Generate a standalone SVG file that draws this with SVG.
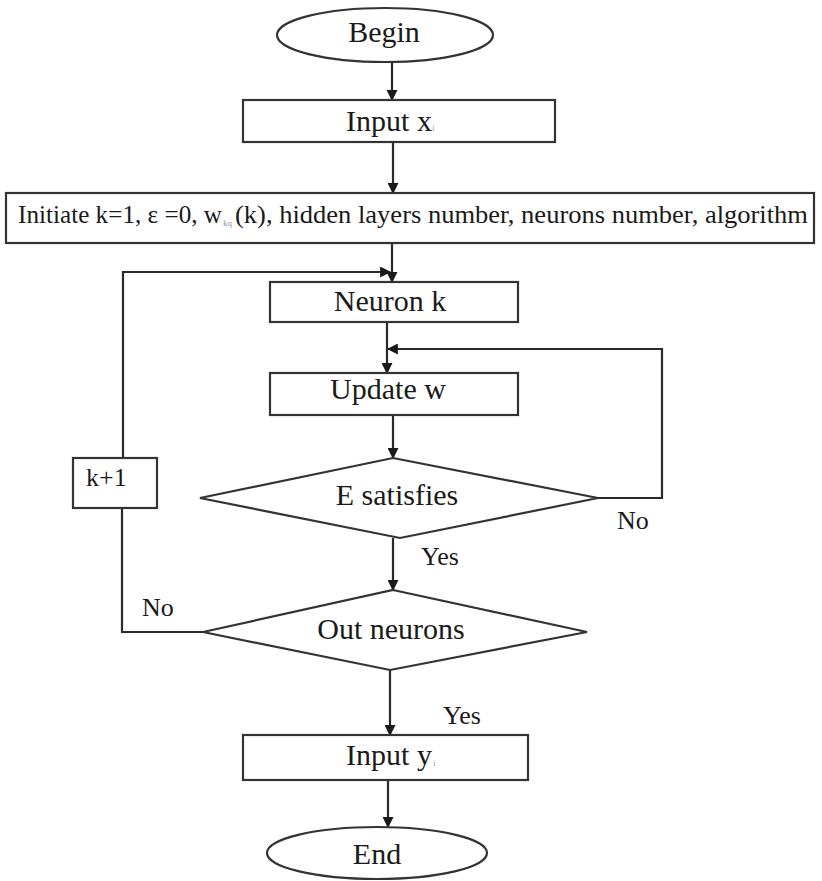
<svg xmlns="http://www.w3.org/2000/svg" width="822" height="881" viewBox="0 0 822 881">
<defs>
<style>
.box{fill:#fff;stroke:#333;stroke-width:2.2}
.ln{fill:none;stroke:#2a2a2a;stroke-width:2.2}
.t{font-family:"Liberation Serif","Times New Roman",serif;font-size:30px;fill:#1a1a1a;text-anchor:middle}
.it{font-family:"Liberation Serif","Times New Roman",serif;font-size:25px;fill:#1a1a1a}
.lb{font-family:"Liberation Serif","Times New Roman",serif;font-size:26px;fill:#1a1a1a}
.sub{font-family:"Liberation Serif","Times New Roman",serif;font-size:9px;fill:#999}
</style>
<marker id="ah" viewBox="0 0 10 10" refX="9" refY="5" markerWidth="5" markerHeight="5" orient="auto-start-reverse" markerUnits="strokeWidth">
<path d="M0,0 L10,5 L0,10 z" fill="#1a1a1a"/>
</marker>
</defs>
<rect width="822" height="881" fill="#fff"/>
<g id="connectors">
<line class="ln" x1="392" y1="62" x2="392" y2="100" marker-end="url(#ah)"/>
<line class="ln" x1="393" y1="142" x2="393" y2="193" marker-end="url(#ah)"/>
<line class="ln" x1="392" y1="243" x2="392" y2="282" marker-end="url(#ah)"/>
<polyline class="ln" points="203,632 122,632 122,508"/>
<polyline class="ln" points="123,458 123,272 390,272" marker-end="url(#ah)"/>
<line class="ln" x1="387" y1="322" x2="387" y2="373" marker-end="url(#ah)"/>
<polyline class="ln" points="598,498 662,498 662,349 388,349" marker-end="url(#ah)"/>
<line class="ln" x1="393" y1="415" x2="393" y2="458" marker-end="url(#ah)"/>
<line class="ln" x1="393" y1="538" x2="393" y2="590" marker-end="url(#ah)"/>
<line class="ln" x1="390" y1="670" x2="390" y2="735" marker-end="url(#ah)"/>
<line class="ln" x1="388" y1="780" x2="388" y2="827" marker-end="url(#ah)"/>
<text class="lb" x="617" y="529">No</text>
<text class="lb" x="421" y="565">Yes</text>
<text class="lb" x="142" y="616">No</text>
<text class="lb" x="443" y="724">Yes</text>
</g>
<g id="begin">
<ellipse class="box" cx="385" cy="35" rx="108" ry="27"/>
<text class="t" x="384" y="42">Begin</text>
</g>
<g id="inputx">
<rect class="box" x="243" y="100" width="312" height="42"/>
<text class="t" x="389" y="131">Input x</text>
<text class="sub" x="432" y="131">i</text>
</g>
<g id="initiate">
<rect class="box" x="6" y="193" width="808" height="50"/>
<text class="it" x="18" y="223" textLength="204" lengthAdjust="spacingAndGlyphs">Initiate k=1, ε =0, w</text>
<text class="sub" x="223" y="226">kq</text>
<text class="it" x="235" y="223" textLength="573" lengthAdjust="spacingAndGlyphs">(k), hidden layers number, neurons number, algorithm</text>
</g>
<g id="neuronk">
<rect class="box" x="270" y="282" width="248" height="40"/>
<text class="t" x="390" y="311">Neuron k</text>
</g>
<g id="updatew">
<rect class="box" x="270" y="373" width="248" height="42"/>
<text class="t" x="388" y="399">Update w</text>
</g>
<g id="esatisfies">
<polygon class="box" points="393,458 598,498 400,538 200,498"/>
<text class="t" x="397" y="505">E satisfies</text>
</g>
<g id="kplus1">
<rect class="box" x="73" y="458" width="84" height="50"/>
<text class="lb" x="86" y="486">k+1</text>
</g>
<g id="outneurons">
<polygon class="box" points="393,590 587,632 390,670 203,632"/>
<text class="t" x="391" y="639">Out neurons</text>
</g>
<g id="inputy">
<rect class="box" x="243" y="735" width="285" height="45"/>
<text class="t" x="389" y="765">Input y</text>
<text class="sub" x="433" y="766">i</text>
</g>
<g id="end">
<ellipse class="box" cx="377" cy="853" rx="110" ry="26"/>
<text class="t" x="377" y="864">End</text>
</g>
</svg>
